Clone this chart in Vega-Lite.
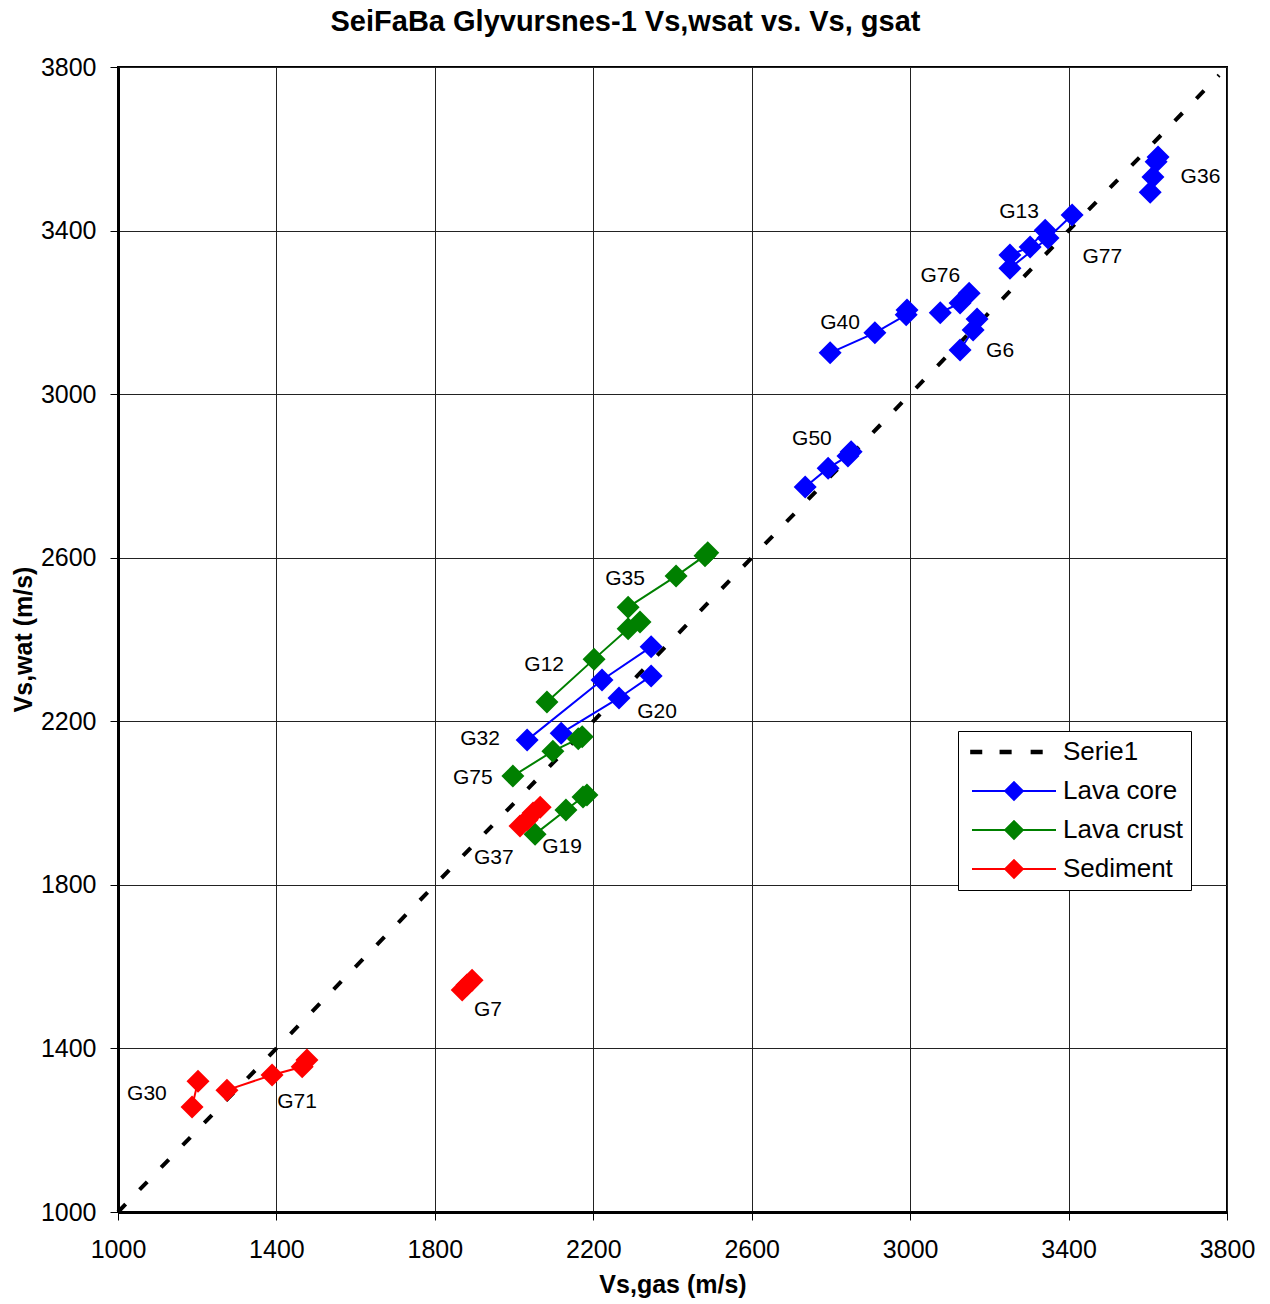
{
  "$schema": "https://vega.github.io/schema/vega-lite/v6.json",
  "width": 1109,
  "height": 1145,
  "autosize": "none",
  "padding": {"left": 118, "top": 67, "right": 43, "bottom": 92},
  "background": "white",
  "title": {
    "text": "SeiFaBa Glyvursnes-1 Vs,wsat vs. Vs, gsat",
    "font": "Liberation Sans",
    "fontSize": 29,
    "fontWeight": "bold",
    "color": "#000",
    "anchor": "middle",
    "dx": -47,
    "offset": 18
  },
  "config": {
    "font": "Liberation Sans",
    "view": {"stroke": "#000", "strokeWidth": 2},
    "axis": {
      "domainColor": "#000",
      "domainWidth": 3,
      "tickColor": "#000",
      "tickWidth": 1,
      "tickSize": 8,
      "gridColor": "#222",
      "gridWidth": 1,
      "labelColor": "#000",
      "labelFont": "Liberation Sans",
      "labelFontSize": 25,
      "labelFlush": false,
      "titleColor": "#000",
      "titleFont": "Liberation Sans",
      "titleFontSize": 25,
      "titleFontWeight": "bold"
    }
  },
  "resolve": {"legend": {"color": "independent", "shape": "independent"}},
  "datasets": {
    "pts": [
      {"g": "G36", "type": "Lava core", "vgas": 3626, "vwat": 3580},
      {"g": "G36", "type": "Lava core", "vgas": 3621, "vwat": 3568},
      {"g": "G36", "type": "Lava core", "vgas": 3613, "vwat": 3531},
      {"g": "G36", "type": "Lava core", "vgas": 3606, "vwat": 3494},
      {"g": "G13", "type": "Lava core", "vgas": 3252, "vwat": 3340},
      {"g": "G13", "type": "Lava core", "vgas": 3303, "vwat": 3360},
      {"g": "G13", "type": "Lava core", "vgas": 3341, "vwat": 3401},
      {"g": "G77", "type": "Lava core", "vgas": 3252, "vwat": 3308},
      {"g": "G77", "type": "Lava core", "vgas": 3348, "vwat": 3382},
      {"g": "G77", "type": "Lava core", "vgas": 3409, "vwat": 3438},
      {"g": "G76", "type": "Lava core", "vgas": 3076, "vwat": 3199},
      {"g": "G76", "type": "Lava core", "vgas": 3126, "vwat": 3223},
      {"g": "G76", "type": "Lava core", "vgas": 3149, "vwat": 3247},
      {"g": "G6", "type": "Lava core", "vgas": 3169, "vwat": 3184},
      {"g": "G6", "type": "Lava core", "vgas": 3159, "vwat": 3157},
      {"g": "G6", "type": "Lava core", "vgas": 3126, "vwat": 3108},
      {"g": "G40", "type": "Lava core", "vgas": 2798, "vwat": 3101},
      {"g": "G40", "type": "Lava core", "vgas": 2911, "vwat": 3150},
      {"g": "G40", "type": "Lava core", "vgas": 2990, "vwat": 3194},
      {"g": "G40", "type": "Lava core", "vgas": 2992, "vwat": 3206},
      {"g": "G50", "type": "Lava core", "vgas": 2735, "vwat": 2773},
      {"g": "G50", "type": "Lava core", "vgas": 2793, "vwat": 2819},
      {"g": "G50", "type": "Lava core", "vgas": 2843, "vwat": 2849},
      {"g": "G50", "type": "Lava core", "vgas": 2851, "vwat": 2859},
      {"g": "G32", "type": "Lava core", "vgas": 2033, "vwat": 2154},
      {"g": "G32", "type": "Lava core", "vgas": 2222, "vwat": 2301},
      {"g": "G32", "type": "Lava core", "vgas": 2346, "vwat": 2382},
      {"g": "G20", "type": "Lava core", "vgas": 2119, "vwat": 2171},
      {"g": "G20", "type": "Lava core", "vgas": 2265, "vwat": 2257},
      {"g": "G20", "type": "Lava core", "vgas": 2346, "vwat": 2311},
      {"g": "G35", "type": "Lava crust", "vgas": 2288, "vwat": 2479},
      {"g": "G35", "type": "Lava crust", "vgas": 2409, "vwat": 2555},
      {"g": "G35", "type": "Lava crust", "vgas": 2482, "vwat": 2605},
      {"g": "G35", "type": "Lava crust", "vgas": 2489, "vwat": 2612},
      {"g": "G12", "type": "Lava crust", "vgas": 2083, "vwat": 2247},
      {"g": "G12", "type": "Lava crust", "vgas": 2202, "vwat": 2352},
      {"g": "G12", "type": "Lava crust", "vgas": 2288, "vwat": 2426},
      {"g": "G12", "type": "Lava crust", "vgas": 2318, "vwat": 2443},
      {"g": "G75", "type": "Lava crust", "vgas": 1997, "vwat": 2066},
      {"g": "G75", "type": "Lava crust", "vgas": 2098, "vwat": 2127},
      {"g": "G75", "type": "Lava crust", "vgas": 2162, "vwat": 2157},
      {"g": "G75", "type": "Lava crust", "vgas": 2172, "vwat": 2162},
      {"g": "G19", "type": "Lava crust", "vgas": 2053, "vwat": 1924},
      {"g": "G19", "type": "Lava crust", "vgas": 2131, "vwat": 1983},
      {"g": "G19", "type": "Lava crust", "vgas": 2174, "vwat": 2015},
      {"g": "G19", "type": "Lava crust", "vgas": 2184, "vwat": 2020},
      {"g": "G37", "type": "Sediment", "vgas": 2015, "vwat": 1944},
      {"g": "G37", "type": "Sediment", "vgas": 2033, "vwat": 1959},
      {"g": "G37", "type": "Sediment", "vgas": 2048, "vwat": 1976},
      {"g": "G37", "type": "Sediment", "vgas": 2066, "vwat": 1990},
      {"g": "G7", "type": "Sediment", "vgas": 1869, "vwat": 1543},
      {"g": "G7", "type": "Sediment", "vgas": 1881, "vwat": 1555},
      {"g": "G7", "type": "Sediment", "vgas": 1894, "vwat": 1567},
      {"g": "G30", "type": "Sediment", "vgas": 1187, "vwat": 1257},
      {"g": "G30", "type": "Sediment", "vgas": 1202, "vwat": 1320},
      {"g": "G71", "type": "Sediment", "vgas": 1275, "vwat": 1298},
      {"g": "G71", "type": "Sediment", "vgas": 1389, "vwat": 1335},
      {"g": "G71", "type": "Sediment", "vgas": 1465, "vwat": 1355},
      {"g": "G71", "type": "Sediment", "vgas": 1477, "vwat": 1372}
    ],
    "diag": [
      {"vgas": 1000, "vwat": 1000},
      {"vgas": 3780, "vwat": 3780}
    ],
    "lbl": [
      {"t": "G36", "vgas": 3733, "vwat": 3530},
      {"t": "G13", "vgas": 3275, "vwat": 3445},
      {"t": "G77", "vgas": 3485, "vwat": 3335},
      {"t": "G76", "vgas": 3076, "vwat": 3289},
      {"t": "G40", "vgas": 2823, "vwat": 3174},
      {"t": "G6", "vgas": 3227, "vwat": 3105},
      {"t": "G50", "vgas": 2752, "vwat": 2890},
      {"t": "G35", "vgas": 2280, "vwat": 2548},
      {"t": "G12", "vgas": 2076, "vwat": 2338},
      {"t": "G20", "vgas": 2361, "vwat": 2223},
      {"t": "G32", "vgas": 1914, "vwat": 2157},
      {"t": "G75", "vgas": 1896, "vwat": 2061},
      {"t": "G37", "vgas": 1949, "vwat": 1866},
      {"t": "G19", "vgas": 2121, "vwat": 1893},
      {"t": "G7", "vgas": 1934, "vwat": 1494},
      {"t": "G30", "vgas": 1073, "vwat": 1289},
      {"t": "G71", "vgas": 1452, "vwat": 1269}
    ]
  },
  "encoding": {
    "x": {
      "field": "vgas",
      "type": "quantitative",
      "scale": {"domain": [1000, 3800], "nice": false, "zero": false},
      "axis": {
        "values": [1000, 1400, 1800, 2200, 2600, 3000, 3400, 3800],
        "format": "d",
        "title": "Vs,gas (m/s)",
        "labelPadding": 17,
        "titleY": 60,
        "grid": true
      }
    },
    "y": {
      "field": "vwat",
      "type": "quantitative",
      "scale": {"domain": [1000, 3800], "nice": false, "zero": false},
      "axis": {
        "values": [1000, 1400, 1800, 2200, 2600, 3000, 3400, 3800],
        "format": "d",
        "title": "Vs,wat (m/s)",
        "labelPadding": 14,
        "titleX": -82,
        "titleY": 572,
        "grid": true
      }
    }
  },
  "layer": [
    {
      "data": {"name": "diag"},
      "mark": {"type": "line", "color": "#000", "strokeWidth": 4, "strokeDash": [11, 20]},
      "encoding": {}
    },
    {
      "data": {"name": "pts"},
      "mark": {"type": "point", "filled": true, "opacity": 0},
      "encoding": {
        "color": {
          "field": "type",
          "type": "nominal",
          "scale": {
            "domain": ["Serie1", "Lava core", "Lava crust", "Sediment"],
            "range": ["#000000", "#0000ff", "#008000", "#ff0000"]
          },
          "legend": {
            "title": null,
            "orient": "none",
            "legendX": 840,
            "legendY": 664,
            "padding": 8,
            "strokeColor": "#000",
            "fillColor": "#fff",
            "labelFont": "Liberation Sans",
            "labelFontSize": 26,
            "labelColor": "#000",
            "symbolSize": 282,
            "symbolOffset": 35,
            "labelOffset": 36,
            "rowPadding": 13,
            "symbolStrokeWidth": 2,
            "encode": {
              "symbols": {
                "update": {
                  "stroke": {"scale": "color", "field": "value"},
                  "strokeWidth": {"value": 2},
                  "opacity": {"value": 1},
                  "fillOpacity": {"value": 1},
                  "strokeOpacity": {"value": 1}
                }
              }
            }
          }
        },
        "shape": {
          "field": "type",
          "type": "nominal",
          "scale": {
            "domain": ["Serie1", "Lava core", "Lava crust", "Sediment"],
            "range": [
              "M-5.1,-0.15L-3.9,-0.15L-3.9,0.15L-5.1,0.15Z M-1.6,-0.15L-0.4,-0.15L-0.4,0.15L-1.6,0.15Z M2.1,-0.15L3.3,-0.15L3.3,0.15L2.1,0.15Z",
              "M-5,0L5,0M0,-1.05L1.05,0L0,1.05L-1.05,0Z",
              "M-5,0L5,0M0,-1.05L1.05,0L0,1.05L-1.05,0Z",
              "M-5,0L5,0M0,-1.05L1.05,0L0,1.05L-1.05,0Z"
            ]
          },
          "legend": {
            "title": null,
            "orient": "none",
            "legendX": 840,
            "legendY": 664,
            "padding": 8,
            "strokeColor": "#000",
            "fillColor": "#fff",
            "labelFont": "Liberation Sans",
            "labelFontSize": 26,
            "labelColor": "#000",
            "symbolSize": 282,
            "symbolOffset": 35,
            "labelOffset": 36,
            "rowPadding": 13,
            "symbolStrokeWidth": 2,
            "encode": {
              "symbols": {
                "update": {
                  "stroke": {"scale": "color", "field": "value"},
                  "strokeWidth": {"value": 2},
                  "opacity": {"value": 1},
                  "fillOpacity": {"value": 1},
                  "strokeOpacity": {"value": 1}
                }
              }
            }
          }
        }
      }
    },
    {
      "data": {"name": "pts"},
      "mark": {"type": "line", "strokeWidth": 2},
      "encoding": {
        "detail": {"field": "g"},
        "color": {"field": "type", "type": "nominal", "legend": null}
      }
    },
    {
      "data": {"name": "pts"},
      "mark": {"type": "point", "shape": "diamond", "filled": true, "size": 529, "opacity": 1, "strokeWidth": 0},
      "encoding": {
        "color": {"field": "type", "type": "nominal", "legend": null}
      }
    },
    {
      "data": {"name": "lbl"},
      "mark": {"type": "text", "font": "Liberation Sans", "fontSize": 21, "color": "#000", "align": "center", "baseline": "middle"},
      "encoding": {
        "text": {"field": "t"}
      }
    }
  ]
}
